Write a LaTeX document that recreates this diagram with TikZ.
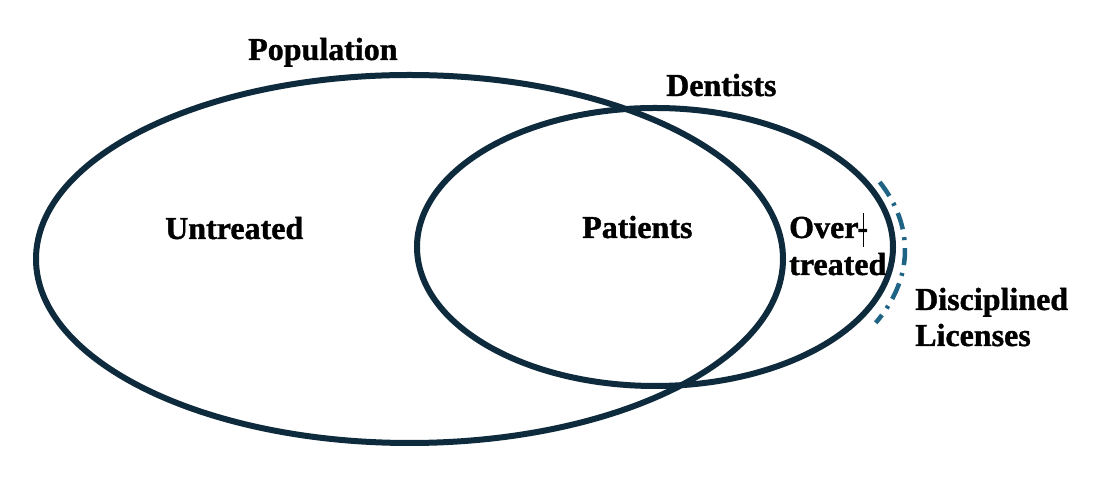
\documentclass[tikz,border=0pt]{standalone}
\usepackage{fontspec}
\setmainfont{Liberation Serif}[BoldFeatures={FakeBold=1.2}]
\definecolor{ringcol}{HTML}{0E2A3D}
\definecolor{dashcol}{HTML}{1F6385}
\begin{document}
\begin{tikzpicture}[x=1pt,y=1pt,
  ring/.style={draw=ringcol,line width=6pt},
  lbl/.style={inner sep=0pt,font=\fontsize{32}{38}\selectfont\bfseries,text=black},
  dashring/.style={draw=dashcol,line width=4.5pt,dash pattern=on 17pt off 8pt on 3pt off 8pt}]
\useasboundingbox (0,0) rectangle (1093,481);
\fill[white] (0,0) rectangle (1093,481);
% Population ellipse
\draw[ring] (409.5,222) ellipse [x radius=373.5, y radius=184];
% Dentists ellipse
\draw[ring] (655,234) ellipse [x radius=238, y radius=139];
% Disciplined licenses arc
\draw[dashring] (655,231) ++(26:250 and 155) arc [start angle=26, end angle=-28, x radius=250, y radius=155];
% labels
\node[lbl,anchor=base west] (pop) at (248,421) {Population};
\node[lbl,anchor=base west] (den) at (666,385) {Dentists};
\node[lbl,anchor=base west] (unt) at (165,242) {Untreated};
\node[lbl,anchor=base west] (pat) at (582,243) {Patients};
\node[lbl,anchor=base west] (over) at (789,243) {Over-};
\node[lbl,anchor=base west] (trt) at (789,206) {treated};
\draw[black,line width=0.8pt] (863,234) -- (863,268);
\node[lbl,anchor=base west] (dis) at (915,171) {Disciplined};
\node[lbl,anchor=base west] (lic) at (915,135) {Licenses};
\end{tikzpicture}
\end{document}
